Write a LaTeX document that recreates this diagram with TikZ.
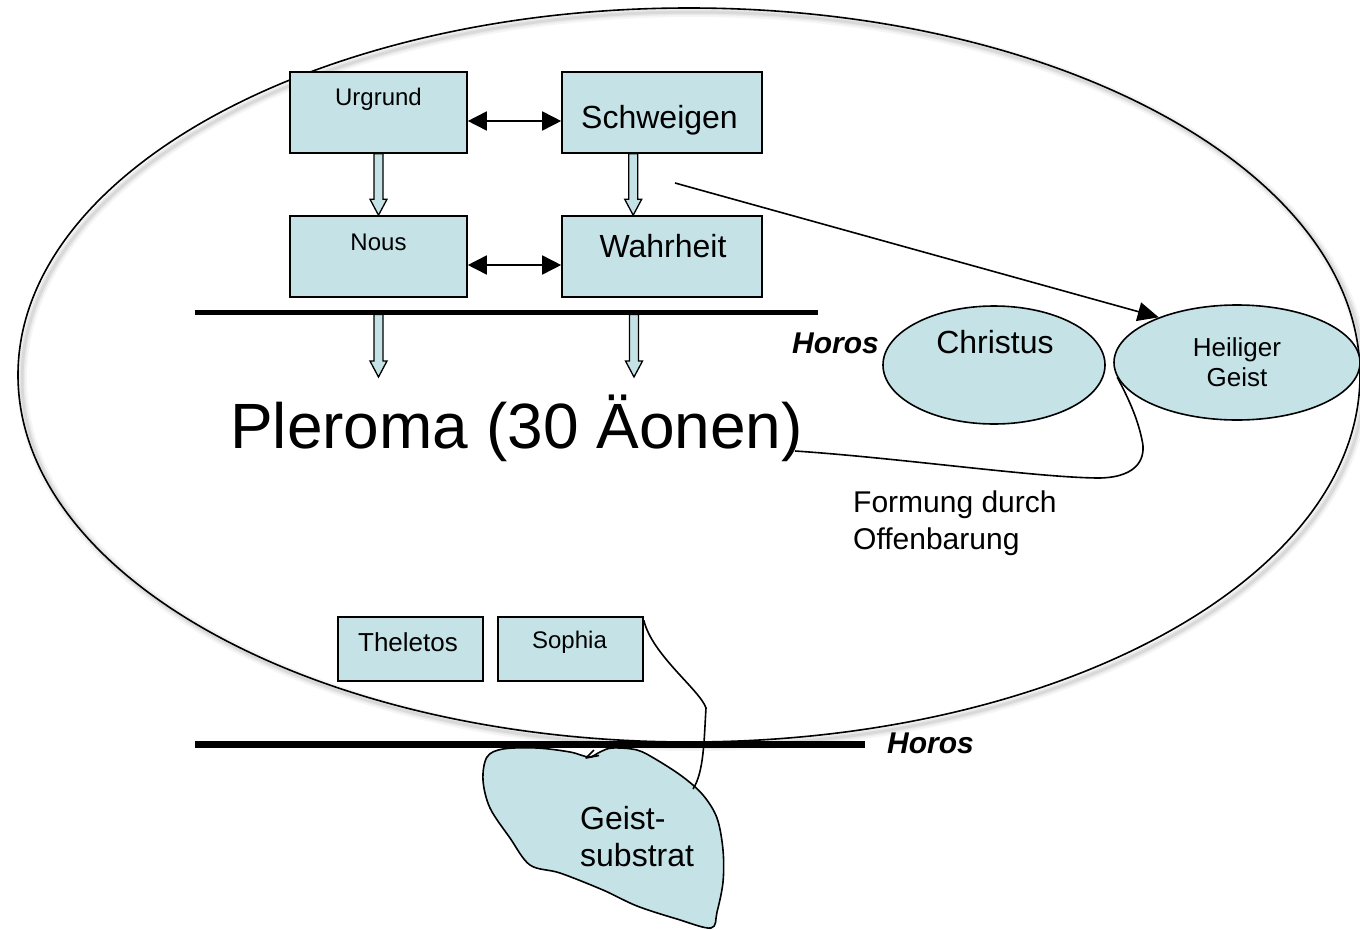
\documentclass[tikz,border=0pt]{standalone}
\usepackage{fontspec}
\setmainfont{Liberation Sans}
\usetikzlibrary{arrows.meta,calc,shapes.geometric}
\definecolor{aeon}{RGB}{197,227,231}
% vertical block arrow from #1 down to #2 (same x as #1)
\newcommand\blockarrow[2]{%
  \draw[barrow] let \p1=#1, \p2=#2 in
    (\x1-4.5pt,\y1) -- (\x1+4.5pt,\y1) -- (\x1+4.5pt,\y2+16pt) -- (\x1+8.5pt,\y2+16pt)
    -- (\x1,\y2) -- (\x1-8.5pt,\y2+16pt) -- (\x1-4.5pt,\y2+16pt) -- cycle;}
\newcommand\fsz[2]{\fontsize{#1}{#2}\selectfont}
\begin{document}
\begin{tikzpicture}[x=1pt,y=-1pt,
  lw/.style={line width=1.6pt},
  box/.style={draw, lw, fill=aeon, rectangle, inner sep=0pt},
  oval/.style={draw, lw, fill=aeon, ellipse, inner sep=0pt},
  lbl/.style={anchor=base, inner sep=0pt},
  lblw/.style={anchor=base west, inner sep=0pt},
  barrow/.style={draw, line width=1.3pt, fill=aeon, line join=miter},
  dbl/.style={lw, {Triangle[length=19pt,width=19pt]}-{Triangle[length=19pt,width=19pt]}},
  hbar/.style={line width=#1, line cap=butt},
  horos/.style={lblw, font=\fsz{30}{30}\bfseries\itshape},
]
\useasboundingbox (0,0) rectangle (1360,929);

% soft shadow of the outer boundary
\foreach \w/\o in {10/0.04,6/0.05,3/0.07}
  \draw[line width=\w pt, black, opacity=\o] (693,379) ellipse [x radius=671, y radius=367];
\node[draw, lw, ellipse, minimum width=1342, minimum height=734, inner sep=0pt] (pleroma) at (689,375) {};

% the four primal aeons
\node[box, minimum width=177, minimum height=81] (urgrund)   at (378.5,112.5) {};
\node[box, minimum width=200, minimum height=81] (schweigen) at (662,112.5) {};
\node[box, minimum width=177, minimum height=81] (nous)      at (378.5,256.5) {};
\node[box, minimum width=200, minimum height=81] (wahrheit)  at (662,256.5) {};
\node[lbl, font=\fsz{24}{24}] (urgrundtxt) at (378.5,105) {Urgrund};
\node[lbl, font=\fsz{32}{32}] (schweigentxt) at (659.5,128) {Schweigen};
\node[lbl, font=\fsz{24}{24}] (noustxt) at (378.5,250) {Nous};
\node[lbl, font=\fsz{32}{32}] (wahrheittxt) at (663,257) {Wahrheit};

\draw[dbl] ($(urgrund.east)+(0,8.5)$) -- ($(schweigen.west)+(0,8.5)$);
\draw[dbl] ($(nous.east)+(0,8.5)$) -- ($(wahrheit.west)+(0,8.5)$);
\blockarrow{(urgrund.south)}{(nous.north)}
\blockarrow{($(schweigen.south west)+(72,0)$)}{($(wahrheit.north west)+(72,0)$)}

% upper Horos
\coordinate (hA) at (195,312);
\coordinate (hB) at (818,312);
\draw[hbar=5pt] (hA) -- (hB);
\coordinate (out1a) at (378.5,314.5);
\coordinate (out1b) at (378.5,377);
\coordinate (out2a) at (634,314.5);
\coordinate (out2b) at (634,377);
\blockarrow{(out1a)}{(out1b)}
\blockarrow{(out2a)}{(out2b)}
\node[horos] (horos1) at (792,353) {Horos};

\node[lblw, font=\fsz{64}{64}] (pleromatxt) at (230,448) {Pleroma (30 Äonen)};

% Christus and Heiliger Geist
\node[oval, minimum width=222, minimum height=118] (christus) at (994,365) {};
\node[lbl, font=\fsz{32}{32}] (christustxt) at (995,353) {Christus};
\node[oval, minimum width=246, minimum height=115, align=center, font=\fsz{26}{30}] (hg) at (1237,362.5) {Heiliger\\Geist};

\coordinate (sw) at (675,183);
\draw[lw, -{Triangle[length=21pt,width=19pt]}] (sw) -- (hg.150);

\coordinate (fstart) at (795,451);
\draw[lw] (fstart) .. controls (900,458) and (1040,478) .. (1100,478)
  .. controls (1140,477) and (1146,456) .. (1142,440)
  .. controls (1137,415) and (1125,392) .. (hg.187);
\node[lblw, font=\fsz{30}{30}] (formung1) at (853,512) {Formung durch};
\node[lblw, font=\fsz{30}{30}] (formung2) at (853,549) {Offenbarung};

% Theletos and Sophia
\node[box, minimum width=145, minimum height=64] (theletos) at (410.5,649) {};
\node[box, minimum width=145, minimum height=64] (sophia)   at (570.5,649) {};
\node[lbl, font=\fsz{26}{26}] (theletostxt) at (408,651) {Theletos};
\node[lbl, font=\fsz{24}{24}] (sophiatxt) at (569.5,648) {Sophia};

% lower Horos
\coordinate (hC) at (195,744);
\coordinate (hD) at (865,744);
\draw[hbar=7pt] (hC) -- (hD);
\node[horos] (horos2) at (887,753) {Horos};

% Geist-substrat
\draw[lw, fill=aeon] plot[smooth cycle, tension=0.55] coordinates {
  (487,757) (503,749) (537,748) (570,752) (589,757) (600,752) (612,748) (637,750)
  (657,760) (683,777) (703,795) (717,818) (723,850) (723,882) (717,912) (711,928)
  (677,919) (637,906) (603,890) (560,873) (530,865) (510,838) (490,808) (483,780)};
\coordinate (gend) at (693,789);
\node[lblw, font=\fsz{32}{32}] (geist1) at (580,829) {Geist-};
\node[lblw, font=\fsz{32}{32}] (geist2) at (580,866) {substrat};

\draw[lw] ($(sophia.north east)+(0,4)$) .. controls (652,655) and (700,690) .. (706,708)
  .. controls (704,740) and (704,772) .. (gend);
\coordinate (hk1) at (594,750);
\coordinate (hk2) at (586,758);
\coordinate (hk3) at (599,755.5);
\draw[lw, line join=round] (hk1) -- (hk2) -- (hk3);
\end{tikzpicture}
\end{document}
